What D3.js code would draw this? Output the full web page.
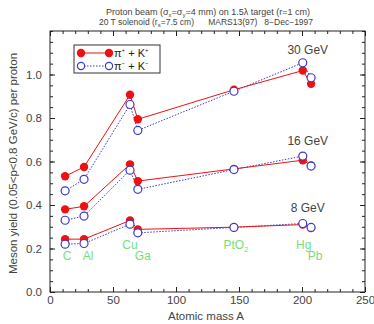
<!DOCTYPE html>
<html>
<head>
<meta charset="utf-8">
<script src="https://cdn.jsdelivr.net/npm/d3@7"></script>
<style>
  body { margin: 0; background: #fff; }
  text { font-family: "Liberation Sans", Arial, sans-serif; white-space: pre; }
</style>
</head>
<body>
<div id="chart"></div>
<script>
var elements = ['C', 'Al', 'Cu', 'Ga', 'PtO2', 'Hg', 'Pb'];
var mass = [12, 27, 63.5, 69.7, 146, 200.6, 207.2];
var energies = ['30 GeV', '16 GeV', '8 GeV'];
var pos30 = [0.532, 0.575, 0.907, 0.794, 0.930, 1.018, 0.957];
var neg30 = [0.465, 0.518, 0.862, 0.743, 0.923, 1.054, 0.985];
var pos16 = [0.380, 0.394, 0.587, 0.510, 0.566, 0.606, 0.582];
var neg16 = [0.330, 0.349, 0.560, 0.472, 0.563, 0.625, 0.579];
var pos8 = [0.243, 0.243, 0.329, 0.288, 0.298, 0.310, 0.294];
var neg8 = [0.220, 0.223, 0.312, 0.272, 0.297, 0.315, 0.297];
var xTicks = [0, 50, 100, 150, 200, 250];
var yTicks = [0.0, 0.2, 0.4, 0.6, 0.8, 1.0];

var W = 374, H = 324;
var mLeft = 50, mRight = 365, mTop = 31, mBottom = 292;
var red = '#ee1111', blue = '#3a3acc', green = '#77dd77', grey = '#444';

var svg = d3.select('#chart').append('svg')
            .attr('width', W)
            .attr('height', H);

var x = d3.scaleLinear().domain([0, 250]).range([mLeft, mRight]);
var y = d3.scaleLinear().domain([0, 1.2]).range([mBottom, mTop]);

// frame
svg.append('rect')
   .attr('x', mLeft).attr('y', mTop)
   .attr('width', mRight - mLeft).attr('height', mBottom - mTop)
   .style('fill', 'none').style('stroke', '#222').style('stroke-width', 1);

// ticks, inward on all sides
function minor(ax, vals) {
  return ax.tickValues(vals).tickSize(-3).tickFormat('');
}
var xMinor = d3.range(0, 251, 10), yMinor = d3.range(0, 1.2001, 0.05);
svg.append('g').attr('transform', 'translate(0,' + mBottom + ')').call(minor(d3.axisBottom(x), xMinor));
svg.append('g').attr('transform', 'translate(0,' + mTop + ')').call(minor(d3.axisTop(x), xMinor));
svg.append('g').attr('transform', 'translate(' + mLeft + ',0)').call(minor(d3.axisLeft(y), yMinor));
svg.append('g').attr('transform', 'translate(' + mRight + ',0)').call(minor(d3.axisRight(y), yMinor));

svg.append('g').attr('class', 'ax')
   .attr('transform', 'translate(0,' + mBottom + ')')
   .call(d3.axisBottom(x).tickValues(xTicks).tickSize(-5).tickPadding(4).tickFormat(d3.format('d')));
svg.append('g').attr('transform', 'translate(0,' + mTop + ')')
   .call(d3.axisTop(x).tickValues(xTicks).tickSize(-5).tickFormat(''));
svg.append('g').attr('class', 'ax')
   .attr('transform', 'translate(' + mLeft + ',0)')
   .call(d3.axisLeft(y).tickValues(yTicks).tickSize(-5).tickPadding(8).tickFormat(d3.format('.1f')));
svg.append('g').attr('transform', 'translate(' + mRight + ',0)')
   .call(d3.axisRight(y).tickValues(yTicks).tickSize(-5).tickFormat(''));

svg.selectAll('.domain').remove();
svg.selectAll('.tick line').style('stroke', '#222');
svg.selectAll('.ax text').style('font-size', '11.5px').style('fill', grey)
   .style('font-family', '"Liberation Sans", Arial, sans-serif');

// titles
svg.append('text').attr('x', 208).attr('y', 15).attr('text-anchor', 'middle')
   .style('font-size', '9px').style('fill', grey)
   .html('Proton beam (σ<tspan dy="2" font-size="6">x</tspan><tspan dy="-2">=σ</tspan><tspan dy="2" font-size="6">y</tspan><tspan dy="-2">=4 mm) on 1.5λ target (r=1 cm)</tspan>');
svg.append('text').attr('x', 206).attr('y', 25).attr('text-anchor', 'middle')
   .style('font-size', '8.5px').style('fill', grey)
   .html('20 T solenoid (r<tspan dy="2" font-size="6">s</tspan><tspan dy="-2">=7.5 cm)      MARS13(97)   8−Dec−1997</tspan>');

svg.append('text').attr('x', 206).attr('y', 320).attr('text-anchor', 'middle')
   .style('font-size', '11.5px').style('fill', grey).text('Atomic mass A');
svg.append('text')
   .attr('transform', 'translate(17,' + ((mTop + mBottom) / 2 + 2) + ') rotate(-90)')
   .attr('text-anchor', 'middle')
   .style('font-size', '11.5px').style('fill', grey)
   .text('Meson yield (0.05<p<0.8 GeV/c) per proton');

// series
var posSets = [pos30, pos16, pos8], negSets = [neg30, neg16, neg8];
var line = d3.line().x(function(d) { return x(d[0]); }).y(function(d) { return y(d[1]); });

negSets.forEach(function(vals) {
  var pts = d3.zip(mass, vals);
  svg.append('path').datum(pts).attr('d', line)
     .style('fill', 'none').style('stroke', blue).style('stroke-width', 1)
     .style('stroke-dasharray', '1.5,1.5');
});
posSets.forEach(function(vals) {
  var pts = d3.zip(mass, vals);
  svg.append('path').datum(pts).attr('d', line)
     .style('fill', 'none').style('stroke', red).style('stroke-width', 1);
  svg.append('g').selectAll('circle').data(pts).enter().append('circle')
     .attr('cx', function(d) { return x(d[0]); })
     .attr('cy', function(d) { return y(d[1]); })
     .attr('r', 4.2)
     .style('fill', red);
});
negSets.forEach(function(vals) {
  var pts = d3.zip(mass, vals);
  svg.append('g').selectAll('circle').data(pts).enter().append('circle')
     .attr('cx', function(d) { return x(d[0]); })
     .attr('cy', function(d) { return y(d[1]); })
     .attr('r', 4)
     .style('fill', 'white').style('stroke', blue).style('stroke-width', 1.2);
});

// energy labels near Hg
energies.forEach(function(e, i) {
  svg.append('text')
     .attr('x', x(mass[5]) + 5)
     .attr('y', y(negSets[i][5]) - (i === 0 ? 9 : 11))
     .attr('text-anchor', 'middle')
     .style('font-size', '12px').style('fill', grey)
     .text(e);
});

// element labels
var labDx = [2, 4, 0, 5, 2, 1, 4];
var labY = [0.147, 0.147, 0.20, 0.147, 0.20, 0.20, 0.147];
elements.forEach(function(el, i) {
  var t = svg.append('text')
     .attr('x', x(mass[i]) + labDx[i])
     .attr('y', y(labY[i]))
     .attr('text-anchor', 'middle')
     .style('font-size', '12px').style('fill', green);
  if (el === 'PtO2') t.html('PtO<tspan dy="3" font-size="8">2</tspan>');
  else t.text(el);
});

// legend
var lg = svg.append('g').attr('transform', 'translate(74,45)');
lg.append('rect').attr('width', 86).attr('height', 28)
  .style('fill', 'white').style('stroke', '#333').style('stroke-width', 1);
lg.append('line').attr('x1', 7).attr('x2', 35).attr('y1', 8).attr('y2', 8)
  .style('stroke', red).style('stroke-width', 1);
lg.selectAll('.rc').data([7, 35]).enter().append('circle')
  .attr('cx', function(d) { return d; }).attr('cy', 8).attr('r', 4.2).style('fill', red);
lg.append('line').attr('x1', 7).attr('x2', 35).attr('y1', 21).attr('y2', 21)
  .style('stroke', blue).style('stroke-width', 1).style('stroke-dasharray', '1.5,1.5');
lg.selectAll('.bc').data([7, 35]).enter().append('circle')
  .attr('cx', function(d) { return d; }).attr('cy', 21).attr('r', 3.6)
  .style('fill', 'white').style('stroke', blue).style('stroke-width', 1.2);
lg.append('text').attr('x', 40).attr('y', 12).style('font-size', '11px').style('fill', '#222')
  .html('π<tspan dy="-5" font-size="6">+</tspan><tspan dy="5"> + K</tspan><tspan dy="-5" font-size="6">+</tspan>');
lg.append('text').attr('x', 40).attr('y', 25).style('font-size', '11px').style('fill', '#222')
  .html('π<tspan dy="-5" font-size="6">−</tspan><tspan dy="5"> + K</tspan><tspan dy="-5" font-size="6">−</tspan>');
</script>
</body>
</html>
